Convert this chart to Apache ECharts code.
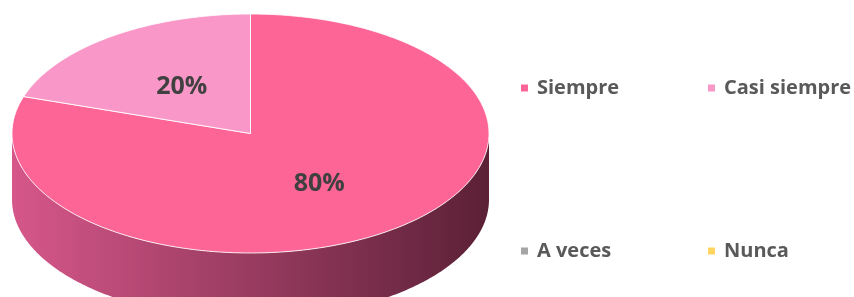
<!DOCTYPE html>
<html>
<head>
<meta charset="utf-8">
<script src="https://cdn.jsdelivr.net/npm/echarts@6/dist/echarts.min.js"></script>
<style>
html,body{margin:0;padding:0;background:#fff;}
#chart{width:854px;height:297px;}
</style>
</head>
<body>
<div id="chart"></div>
<script>
// ---- data ----
const categories = ['Siempre', 'Casi siempre', 'A veces', 'Nunca'];
const values = [80, 20, 0, 0];
const percentLabels = ['80%', '20%', '0%', '0%'];

// ---- styles ----
const topColors = ['#FD6597', '#F998C8', '#A5A5A5', '#FFD55F'];
const sideLight = ['#D6578A', '#D483AC', '#8E8E8E', '#D9B24E'];
const sideDark = ['#5B2036', '#6B3A52', '#444444', '#6B5520'];

const chart = echarts.init(document.getElementById('chart'));

const CX = 250.5, CY = 133.5, RX = 238.5, RY = 119.5, DEPTH = 66;
const total = values.reduce((a, b) => a + b, 0);

function pt(t, dy) {
  return [CX + RX * Math.sin(t), CY - RY * Math.cos(t) + (dy || 0)];
}

function makeRender(idx) {
  return function (params, api) {
    const v = api.value(0);
    if (!v) return null;
    let before = 0;
    for (let k = 0; k < idx; k++) before += values[k];
    const t0 = before / total * Math.PI * 2;
    const t1 = t0 + v / total * Math.PI * 2;
    const children = [];
    // side wall (front half only)
    const a = Math.max(t0, Math.PI / 2), b = Math.min(t1, Math.PI * 3 / 2);
    if (a < b) {
      const n = Math.max(2, Math.ceil((b - a) / 0.01));
      const pts = [];
      for (let s = 0; s <= n; s++) pts.push(pt(a + (b - a) * s / n));
      for (let s = n; s >= 0; s--) pts.push(pt(a + (b - a) * s / n, DEPTH));
      children.push({
        type: 'polygon',
        shape: { points: pts },
        style: {
          fill: {
            type: 'linear', x: CX - RX, y: 0, x2: CX + RX, y2: 0, global: true,
            colorStops: [
              { offset: 0, color: sideLight[idx] },
              { offset: 1, color: sideDark[idx] }
            ]
          },
          stroke: null
        },
        z2: 1
      });
    }
    // top face
    const n2 = Math.max(2, Math.ceil((t1 - t0) / 0.01));
    const tp = [[CX, CY]];
    for (let s = 0; s <= n2; s++) tp.push(pt(t0 + (t1 - t0) * s / n2));
    children.push({
      type: 'polygon',
      shape: { points: tp },
      style: { fill: topColors[idx], stroke: 'rgba(255,255,255,0.85)', lineWidth: 1 },
      z2: 2
    });
    // label
    const mid = (t0 + t1) / 2;
    const lp = [CX + 0.49 * RX * Math.sin(mid), CY - 0.5 * RY * Math.cos(mid) + 2];
    children.push({
      type: 'text',
      x: lp[0], y: lp[1],
      style: {
        text: percentLabels[idx],
        font: 'bold 25px "Open Sans"',
        fill: '#404040',
        align: 'center',
        verticalAlign: 'middle'
      },
      z2: 10
    });
    return { type: 'group', children: children };
  };
}

const series = categories.map((name, i) => ({
  type: 'custom',
  name: name,
  coordinateSystem: 'none',
  itemStyle: { color: topColors[i] },
  renderItem: makeRender(i),
  data: [[values[i]]],
  silent: true
}));

const legendLefts = [521, 708, 521, 708];
const legendTops = [78, 78, 241, 241];

const legends = categories.map((name, i) => ({
  orient: 'horizontal',
  left: legendLefts[i],
  top: legendTops[i],
  padding: 0,
  icon: 'rect',
  itemWidth: 7,
  itemHeight: 7,
  selectedMode: false,
  data: [name],
  textStyle: {
    fontFamily: 'Open Sans',
    fontWeight: 'bold',
    fontSize: 20,
    color: '#595959',
    padding: [0, 0, 0, 4]
  }
}));

chart.setOption({
  animation: false,
  legend: legends,
  series: series
});
</script>
</body>
</html>
